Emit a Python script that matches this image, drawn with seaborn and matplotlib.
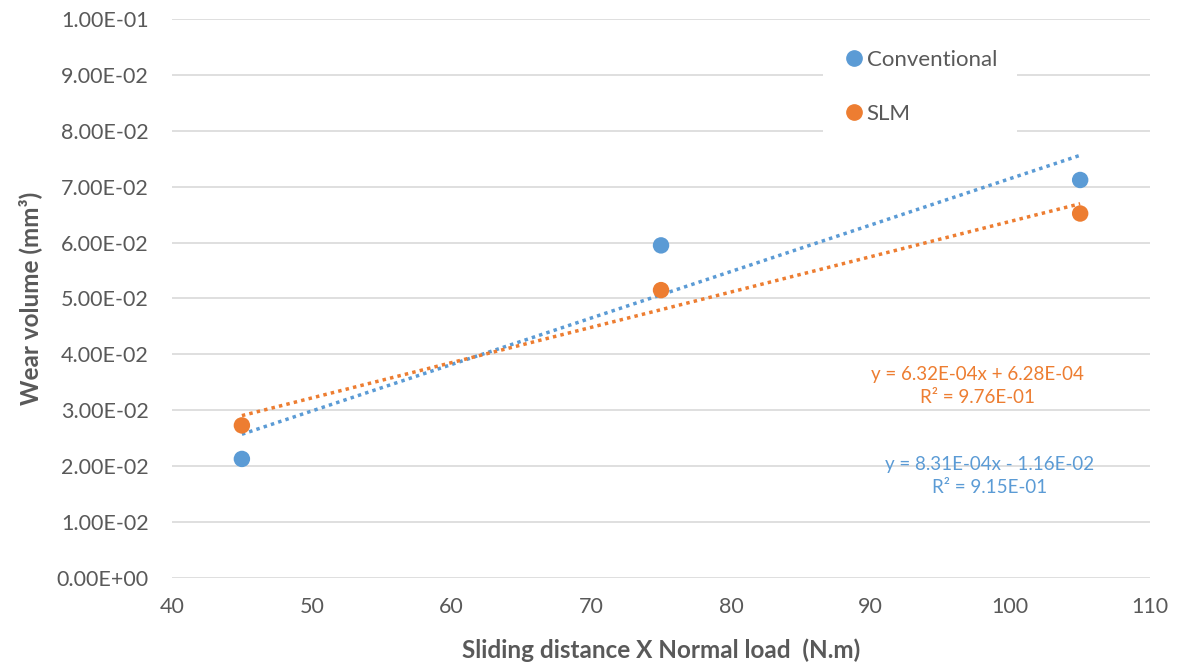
import numpy as np
import pandas as pd
import matplotlib
matplotlib.use("Agg")
import matplotlib.pyplot as plt
import seaborn as sns

# data
x_vals = [45, 75, 105]
conventional = [0.0213, 0.0595, 0.0712]
slm = [0.0273, 0.0515, 0.0652]

series_names = ["Conventional", "SLM"]
colors = {"Conventional": "#5B9BD5", "SLM": "#ED7D31"}
eq_text = {
    "Conventional": "y = 8.31E-04x - 1.16E-02\nR\u00b2 = 9.15E-01",
    "SLM": "y = 6.32E-04x + 6.28E-04\nR\u00b2 = 9.76E-01",
}

df = pd.DataFrame({
    "x": x_vals * 2,
    "wear": conventional + slm,
    "series": ["Conventional"] * 3 + ["SLM"] * 3,
})

sns.set_theme(style="white")
plt.rcParams["font.family"] = ["Lato", "DejaVu Sans"]
text_col = "#595959"

fig = plt.figure(figsize=(11.84, 6.68), dpi=100)
ax = fig.add_axes([0.1453, 0.1347, 0.826, 0.8369])

for name in series_names:
    sub = df[df["series"] == name]
    sns.regplot(data=sub, x="x", y="wear", ax=ax, ci=None, color=colors[name],
                scatter_kws={"s": 140, "alpha": 1, "edgecolor": "none", "zorder": 4},
                line_kws={"linestyle": (0, (1, 1.2)), "linewidth": 2.5, "zorder": 3})

ax.set_xlim(40, 110)
ax.set_ylim(0, 0.1)
ax.set_xticks(np.arange(40, 111, 10))
ax.set_yticks(np.arange(0, 0.1001, 0.01))
ax.yaxis.set_major_formatter(matplotlib.ticker.FuncFormatter(lambda v, p: f"{v:.2E}"))
ax.grid(axis="y", color="#d9d9d9", linewidth=1.2)
ax.set_axisbelow(True)
for s in ax.spines.values():
    s.set_visible(False)
ax.tick_params(axis="both", labelsize=15.5, colors=text_col, length=0)
ax.tick_params(axis="x", pad=14)
ax.tick_params(axis="y", pad=17)

ax.set_xlabel("Sliding distance X Normal load  (N.m)", fontsize=17.5, fontweight="bold",
              color=text_col, labelpad=15)
ax.set_ylabel("Wear volume (mm\u00b3)", fontsize=17.5, fontweight="bold",
              color=text_col, labelpad=10)

# trendline equations
ax.text(0.824, 0.343, eq_text["SLM"], transform=ax.transAxes, ha="center", va="center",
        fontsize=13.5, color=colors["SLM"], linespacing=1.45)
ax.text(0.836, 0.182, eq_text["Conventional"], transform=ax.transAxes, ha="center", va="center",
        fontsize=13.5, color=colors["Conventional"], linespacing=1.45)

handles = [plt.Line2D([], [], marker="o", linestyle="none", markersize=11,
                      color=colors[n]) for n in series_names]
leg = ax.legend(handles, series_names, loc="upper left", bbox_to_anchor=(0.666, 0.981),
                frameon=True, fontsize=16, handletextpad=0.05, labelspacing=1.55,
                borderpad=0.9, handlelength=1.0, borderaxespad=0)
leg.get_frame().set_edgecolor("none")
leg.get_frame().set_facecolor("white")
leg.get_frame().set_alpha(1)
for t in leg.get_texts():
    t.set_color(text_col)

fig.savefig("out.png", dpi=100)
